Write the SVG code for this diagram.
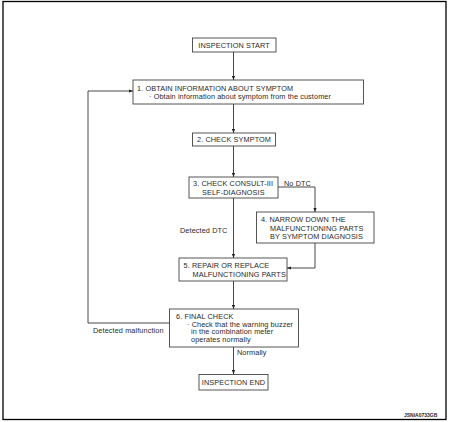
<svg xmlns="http://www.w3.org/2000/svg" width="454" height="422" viewBox="0 0 454 422">
<defs>
<marker id="ah" viewBox="0 0 6 6" refX="6" refY="3" markerWidth="4" markerHeight="4" orient="auto" markerUnits="userSpaceOnUse">
<path d="M0,0.6 L6,3 L0,5.4 Z" fill="#222"/>
</marker>
</defs>
<style>
.box{fill:#fff;stroke:#444;stroke-width:0.9}
.t{font-family:"Liberation Sans",Arial,sans-serif;font-size:7.3px;fill:#2a2a2a;letter-spacing:0.1px}
.c{stroke:#333;stroke-width:0.9;fill:none}
.frame{fill:none;stroke:#000;stroke-width:1.3}
</style>
<rect x="0" y="0" width="454" height="422" fill="#fff"/>
<rect class="frame" x="3" y="1.5" width="443" height="418"/>
<g id="connectors">
<path class="c" d="M233.5,52 V80" marker-end="url(#ah)"/>
<path class="c" d="M233.5,104 V133" marker-end="url(#ah)"/>
<path class="c" d="M233.5,146 V177" marker-end="url(#ah)"/>
<path class="c" d="M278,187 H315 V212" marker-end="url(#ah)"/>
<path class="c" d="M233.5,198 V258" marker-end="url(#ah)"/>
<path class="c" d="M315,243 V268 H287" marker-end="url(#ah)"/>
<path class="c" d="M233.5,281 V309" marker-end="url(#ah)"/>
<path class="c" d="M169,323 H88 V91 H133" marker-end="url(#ah)"/>
<path class="c" d="M233.5,347 V374" marker-end="url(#ah)"/>
</g>
<g id="labels">
<text class="t" x="284" y="185.5">No DTC</text>
<text class="t" x="180" y="233">Detected DTC</text>
<text class="t" x="93" y="333">Detected malfunction</text>
<text class="t" x="237" y="355">Normally</text>
<text class="t" x="404" y="417" style="font-size:5px;font-weight:bold;letter-spacing:0">JSNIA0733GB</text>
</g>
<g id="start">
<rect class="box" x="192.5" y="38" width="83.5" height="14"/>
<text class="t" x="234" y="47.7" text-anchor="middle">INSPECTION START</text>
</g>
<g id="step1">
<rect class="box" x="133" y="80" width="230.5" height="24"/>
<text class="t" x="137" y="90.5">1. OBTAIN INFORMATION ABOUT SYMPTOM</text>
<text class="t" x="149" y="98.5">· Obtain information about symptom from the customer</text>
</g>
<g id="step2">
<rect class="box" x="192.5" y="133" width="83" height="13"/>
<text class="t" x="234" y="142" text-anchor="middle">2. CHECK SYMPTOM</text>
</g>
<g id="step3">
<rect class="box" x="189" y="177" width="89" height="21"/>
<text class="t" x="193" y="186">3. CHECK CONSULT-III</text>
<text class="t" x="202" y="194.5">SELF-DIAGNOSIS</text>
</g>
<g id="step4">
<rect class="box" x="256.5" y="212" width="117.5" height="31"/>
<text class="t" x="261" y="222">4. NARROW DOWN THE</text>
<text class="t" x="270" y="230.5">MALFUNCTIONING PARTS</text>
<text class="t" x="270" y="239">BY SYMPTOM DIAGNOSIS</text>
</g>
<g id="step5">
<rect class="box" x="179" y="258" width="108" height="23"/>
<text class="t" x="183.5" y="268">5. REPAIR OR REPLACE</text>
<text class="t" x="192.5" y="277">MALFUNCTIONING PARTS</text>
</g>
<g id="step6">
<rect class="box" x="169.5" y="309" width="129" height="38"/>
<text class="t" x="176" y="318.5">6. FINAL CHECK</text>
<text class="t" x="187" y="326.5">· Check that the warning buzzer</text>
<text class="t" x="191" y="334">in the combination meter</text>
<text class="t" x="191" y="341.5">operates normally</text>
</g>
<g id="end">
<rect class="box" x="199" y="374.5" width="69" height="15.5"/>
<text class="t" x="233.5" y="385" text-anchor="middle">INSPECTION END</text>
</g>
</svg>
